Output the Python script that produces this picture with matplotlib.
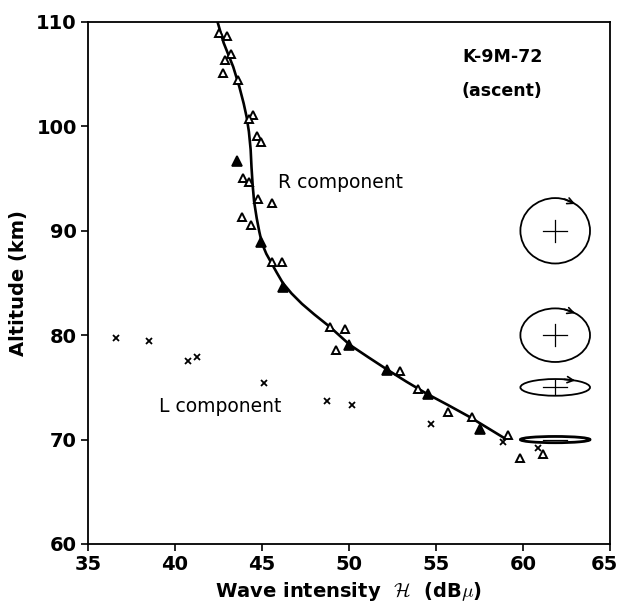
import numpy as np
import matplotlib
matplotlib.use('Agg')
import matplotlib.pyplot as plt
from matplotlib.patches import Ellipse
from matplotlib.transforms import ScaledTranslation

plt.rcParams['font.family'] = ['DejaVu Sans']
plt.rcParams['mathtext.fontset'] = 'cm'

# R component: fitted curve
CURVE_X = [42.45, 42.8, 43.35, 43.7, 43.95, 44.12, 44.25, 44.35, 44.4, 44.47, 44.55,
           44.7, 44.85, 45.0, 45.25, 45.55, 45.85, 46.2, 46.7, 47.3, 48.0, 48.9,
           50.06, 51.1, 52.2, 53.3, 54.46, 55.7, 56.9, 58.87]
CURVE_Y = [110.0, 108.0, 105.7, 103.8, 102.2, 100.9, 99.5, 97.8, 96.1, 94.3, 92.8,
           91.2, 89.9, 88.8, 87.8, 86.9, 86.0, 85.0, 84.0, 83.0, 82.0, 80.8,
           79.06, 77.9, 76.7, 75.55, 74.4, 73.3, 72.2, 70.2]

# R component: open triangles
R_OPEN_X = [42.53, 43.0, 43.2, 42.9, 42.74, 43.6, 44.47, 44.25, 44.73, 44.94,
            43.9, 44.27, 44.79, 45.55, 43.87, 44.37, 45.56, 46.13, 48.9, 49.8,
            49.25, 52.93, 53.98, 55.67, 57.05, 59.16, 59.83, 61.17]
R_OPEN_Y = [108.9, 108.7, 106.9, 106.4, 105.1, 104.4, 101.1, 100.7, 99.1, 98.5,
            95.1, 94.7, 93.0, 92.7, 91.3, 90.6, 87.0, 87.05, 80.8, 80.6,
            78.6, 76.57, 74.8, 72.6, 72.2, 70.4, 68.2, 68.6]

# R component: filled (overlapping) triangles
R_FILL_X = [43.58, 44.94, 46.2, 50.0, 52.2, 54.56, 57.53]
R_FILL_Y = [96.7, 88.9, 84.6, 79.1, 76.7, 74.4, 71.0]

# L component: crosses
L_X = [36.6, 38.5, 40.76, 41.25, 45.13, 48.75, 50.2, 54.7, 58.83, 60.88]
L_Y = [79.7, 79.4, 77.5, 77.9, 75.45, 73.7, 73.3, 71.5, 69.8, 69.2]

# polarization ellipses: altitude and axial ratio
POL_ALT = [90, 80, 75, 70]
POL_RATIO = [0.94, 0.77, 0.24, 0.09]

fig = plt.figure(figsize=(6.19, 6.07), dpi=100)
ax = fig.add_axes([0.142, 0.1038, 0.8435, 0.86])

ax.plot(CURVE_X, CURVE_Y, color='black', lw=1.9, zorder=2)
ax.plot(R_OPEN_X, R_OPEN_Y, ls='none', marker='^', ms=6, mfc='white',
        mec='black', mew=1.4, zorder=3)
ax.plot(R_FILL_X, R_FILL_Y, ls='none', marker='^', ms=6.5, mfc='black',
        mec='black', mew=1.2, zorder=3)
ax.plot(L_X, L_Y, ls='none', marker='x', ms=4, color='black', mew=1.3, zorder=3)

# ellipse glyphs on the right side
cx = 61.85
ew = 4.0                      # data units in x
px_x = 17.4                   # px per x unit
px_y = 10.44                  # px per km
for alt, r in zip(POL_ALT, POL_RATIO):
    eh = r * ew * px_x / px_y
    lw = 1.3 if r > 0.2 else 2.0
    ax.add_patch(Ellipse((cx, alt), ew, eh, fill=False, ec='black', lw=lw, zorder=3))
    hx = 0.7
    ax.plot([cx - hx, cx + hx], [alt, alt], color='black', lw=0.9, zorder=3)
    if r > 0.2:
        hv = min(1.05, 0.42 * eh)
        ax.plot([cx, cx], [alt - hv, alt + hv], color='black', lw=0.9, zorder=3)
        t0, t1 = np.radians(75), np.radians(55)
        p0 = (cx + ew / 2 * np.cos(t0), alt + eh / 2 * np.sin(t0))
        p1 = (cx + ew / 2 * np.cos(t1), alt + eh / 2 * np.sin(t1))
        ax.annotate('', xy=p1, xytext=p0,
                    arrowprops=dict(arrowstyle='->', color='black', lw=1.2,
                                    mutation_scale=11, shrinkA=0, shrinkB=0),
                    zorder=4)

ax.text(45.9, 94.6, 'R component', fontsize=13.5, va='center', ha='left')
ax.text(39.1, 73.2, 'L component', fontsize=13.5, va='center', ha='left')
ax.text(58.8, 106.6, 'K-9M-72', fontsize=12.5, fontweight='bold', ha='center', va='center')
ax.text(58.8, 103.4, '(ascent)', fontsize=12.5, fontweight='bold', ha='center', va='center')

ax.set_xlim(35, 65)
ax.set_ylim(60, 110)
ax.set_xticks(range(35, 66, 5))
ax.set_yticks(range(60, 111, 10))
for s in ax.spines.values():
    s.set_linewidth(1.3)
ax.tick_params(direction='out', length=5, width=1.2, labelsize=14, pad=3)
for lab in ax.get_xticklabels() + ax.get_yticklabels():
    lab.set_fontweight('bold')
last = ax.get_xticklabels()[-1]
last.set_transform(last.get_transform() + ScaledTranslation(-6 / 100, 0, fig.dpi_scale_trans))

ax.set_xlabel(r'Wave intensity  $\mathcal{H}$  (dB$\mu$)', fontsize=14,
              fontweight='bold', labelpad=4)
ax.set_ylabel('Altitude (km)', fontsize=14, fontweight='bold', labelpad=6)

fig.savefig('out.png', dpi=100)
